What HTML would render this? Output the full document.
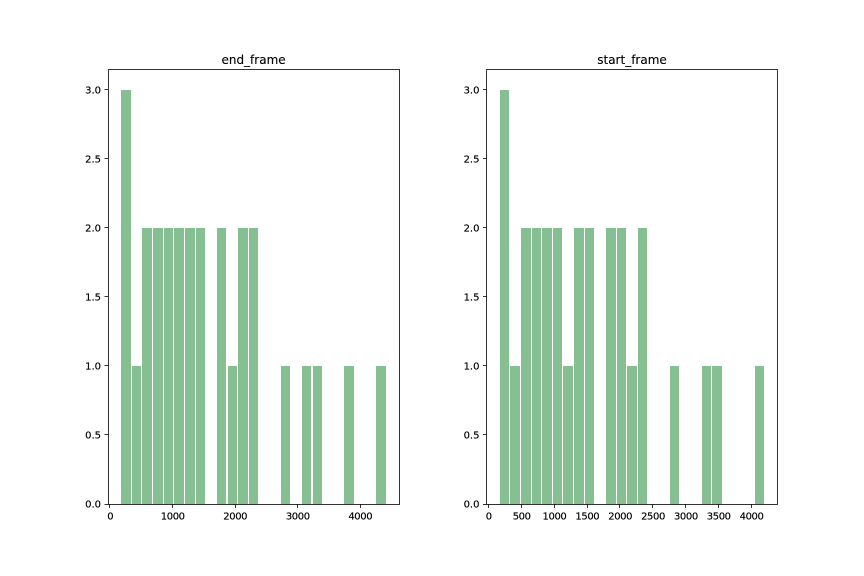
<!DOCTYPE html>
<html>
<head>
<meta charset="utf-8">
<style>
html,body{margin:0;padding:0;background:#fff;}
svg{display:block;}
text{font-family:"DejaVu Sans",sans-serif;fill:#000;}
</style>
</head>
<body>
<svg id="figure" xmlns="http://www.w3.org/2000/svg" width="864" height="576" viewBox="0 0 864 576"></svg>
<script>
const endFrameCounts = [3,1,2,2,2,2,2,2,0,2,1,2,2,0,0,1,0,1,1,0,0,1,0,0,1];
const startFrameCounts = [3,1,2,2,2,2,1,2,2,0,2,2,1,2,0,0,1,0,0,1,1,0,0,0,1];
const endFrameRange = [171.5, 4421.5];
const startFrameRange = [161, 4206];
const endFrameXTicks = [0,1000,2000,3000,4000];
const startFrameXTicks = [0,500,1000,1500,2000,2500,3000,3500,4000];
const yTicks = [0,0.5,1,1.5,2,2.5,3];
const yTickLabels = ['0.0','0.5','1.0','1.5','2.0','2.5','3.0'];
const yMax = 3.15;
const panelTitles = ['end_frame','start_frame'];

const NS = 'http://www.w3.org/2000/svg';
const svg = document.getElementById('figure');
const TOP = 69, BOTTOM = 504;

function make(tag, attrs, parent) {
  const el = document.createElementNS(NS, tag);
  for (const k in attrs) el.setAttribute(k, attrs[k]);
  parent.appendChild(el);
  return el;
}

function snap(v) {
  return Math.floor(v) + 0.5;
}

function drawPanel(title, counts, range, xTicks, left, right, prefix) {
  const g = make('g', {}, svg);
  
  

  const binWidth = (range[1] - range[0]) / counts.length;
  const barSpanMin = range[0] + binWidth * 0.05;
  const barSpanMax = range[1] - binWidth * 0.05;
  const margin = (barSpanMax - barSpanMin) * 0.05;
  const xMin = barSpanMin - margin, xMax = barSpanMax + margin;
  const xScale = v => left + (v - xMin) / (xMax - xMin) * (right - left);
  const yScale = v => BOTTOM - v / yMax * (BOTTOM - TOP);

  counts.forEach((c, i) => {
    if (c === 0) return;
    const x0 = Math.round(xScale(range[0] + binWidth * (i + 0.05)));
    const x1 = Math.round(xScale(range[0] + binWidth * (i + 0.95)));
    const y1 = Math.round(yScale(c));
    const bar = make('rect', {
      x: x0, y: y1,
      width: x1 - x0,
      height: BOTTOM - y1,
      fill: '#86bf91'
    }, g);
    
    
  });

  xTicks.forEach(t => {
    const px = xScale(t);
    const sx = snap(px);
    const tick = make('line', {x1: sx, x2: sx, y1: BOTTOM, y2: BOTTOM + 4, stroke: '#000', 'stroke-width': 0.8}, g);
    
    
    const label = make('text', {x: px + 0.2, y: BOTTOM + 15.5, 'text-anchor': 'middle', 'font-size': 10, 'letter-spacing': -0.4, stroke: '#000', 'stroke-width': 0.15}, g);
    label.textContent = String(t);
    
    
  });

  yTicks.forEach((t, i) => {
    const py = yScale(t);
    const sy = snap(py);
    const tick = make('line', {x1: left - 3.5, x2: left, y1: sy, y2: sy, stroke: '#000', 'stroke-width': 0.8}, g);
    
    
    const label = make('text', {x: left - 7, y: py + 3.6, 'text-anchor': 'end', 'font-size': 10, stroke: '#000', 'stroke-width': 0.15}, g);
    label.textContent = yTickLabels[i];
    
    
  });

  const frame = make('rect', {x: Math.floor(left) + 0.5, y: TOP + 0.5, width: Math.round(right - left), height: BOTTOM - TOP, fill: 'none', stroke: '#000', 'stroke-width': 0.8}, g);
  
  

  const titleEl = make('text', {x: (left + right) / 2, y: TOP - 5.2, 'text-anchor': 'middle', 'font-size': 12, stroke: '#000', 'stroke-width': 0.12}, g);
  titleEl.textContent = title;
  
  
}

drawPanel(panelTitles[0], endFrameCounts, endFrameRange, endFrameXTicks, 108, 399.13, 'end-frame');
drawPanel(panelTitles[1], startFrameCounts, startFrameRange, startFrameXTicks, 486.47, 777.6, 'start-frame');
</script>
</body>
</html>
